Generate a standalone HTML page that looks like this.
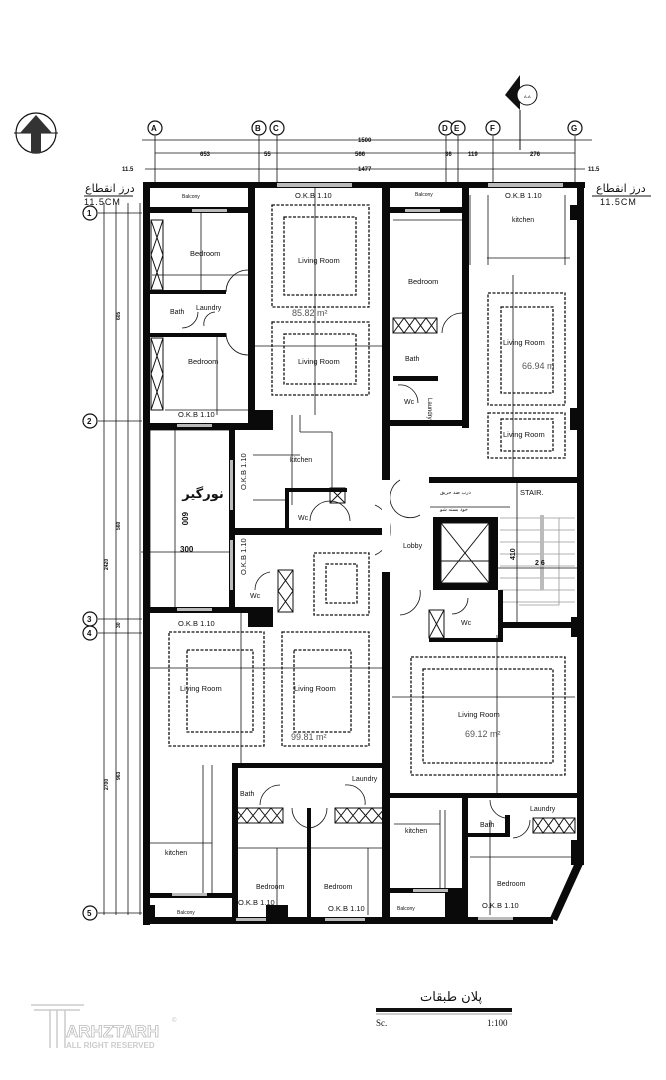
<!DOCTYPE html>
<html><head><meta charset="utf-8"><style>
html,body{margin:0;padding:0;background:#fff;}
svg{display:block;}
text{font-family:"Liberation Sans",sans-serif;fill:#111;}
.l{font-size:7.5px;}
.s{font-size:4px;font-weight:bold;}
.d{fill:none;stroke:#111;stroke-width:1.3;stroke-dasharray:3 1.5;}
.t{stroke:#111;stroke-width:0.8;fill:none;}
.w{fill:#0a0a0a;}
.x{fill:none;stroke:#111;stroke-width:1;}
.c{fill:#fff;stroke:#111;stroke-width:1.2;}
</style></head><body>
<svg width="666" height="1080" viewBox="0 0 666 1080" xmlns="http://www.w3.org/2000/svg">
<rect width="666" height="1080" fill="#fff"/>
<circle cx="36" cy="133" r="20" fill="none" stroke="#111" stroke-width="1.2"/>
<line x1="14" y1="133" x2="58" y2="133" stroke="#111"/>
<polygon points="36,115 20,133 31,133 31,153 41,153 41,133 52,133" fill="#333"/>
<polygon points="520,75 505,95 520,110" fill="#111"/>
<circle cx="527" cy="95" r="10" fill="#fff" stroke="#111"/>
<text x="524" y="98" style="font-size:4px">A-A</text>
<line x1="520" y1="110" x2="520" y2="150" stroke="#111"/>
<g class="t">
<line x1="155" y1="136" x2="155" y2="183"/><line x1="259" y1="136" x2="259" y2="183"/><line x1="277" y1="136" x2="277" y2="183"/>
<line x1="446" y1="136" x2="446" y2="183"/><line x1="458" y1="136" x2="458" y2="183"/><line x1="493" y1="136" x2="493" y2="183"/><line x1="575" y1="136" x2="575" y2="183"/>
<line x1="142" y1="140" x2="592" y2="140"/><line x1="155" y1="153" x2="575" y2="153"/><line x1="145" y1="169" x2="585" y2="169"/>
</g>
<g>
<circle class="c" cx="155" cy="128" r="7"/><text x="151" y="131" class="s" style="font-size:8px">A</text>
<circle class="c" cx="259" cy="128" r="7"/><text x="255" y="131" class="s" style="font-size:8px">B</text>
<circle class="c" cx="277" cy="128" r="7"/><text x="273" y="131" class="s" style="font-size:8px">C</text>
<circle class="c" cx="446" cy="128" r="7"/><text x="442" y="131" class="s" style="font-size:8px">D</text>
<circle class="c" cx="458" cy="128" r="7"/><text x="454" y="131" class="s" style="font-size:8px">E</text>
<circle class="c" cx="493" cy="128" r="7"/><text x="490" y="131" class="s" style="font-size:8px">F</text>
<circle class="c" cx="575" cy="128" r="7"/><text x="571" y="131" class="s" style="font-size:8px">G</text>
</g>
<g style="font-size:6px;font-weight:bold">
<text x="358" y="142">1500</text><text x="200" y="156">653</text><text x="264" y="156">55</text><text x="355" y="156">566</text>
<text x="445" y="156">36</text><text x="468" y="156">119</text><text x="530" y="156">276</text>
<text x="122" y="171">11.5</text><text x="358" y="171">1477</text><text x="588" y="171">11.5</text>
</g>
<text x="85" y="192" style="font-size:11px;font-family:'DejaVu Sans',sans-serif">درز انقطاع</text>
<text x="84" y="205" style="font-size:9px;letter-spacing:1px">11.5CM</text>
<line x1="84" y1="196" x2="133" y2="196" stroke="#111"/>
<text x="596" y="192" style="font-size:11px;font-family:'DejaVu Sans',sans-serif">درز انقطاع</text>
<text x="600" y="205" style="font-size:9px;letter-spacing:1px">11.5CM</text>
<line x1="592" y1="196" x2="651" y2="196" stroke="#111"/>
<g class="t">
<line x1="104" y1="203" x2="104" y2="915"/><line x1="116" y1="203" x2="116" y2="915"/><line x1="128" y1="203" x2="128" y2="915"/><line x1="140" y1="203" x2="140" y2="915"/>
<line x1="98" y1="213" x2="142" y2="213"/><line x1="98" y1="421" x2="142" y2="421"/><line x1="98" y1="619" x2="142" y2="619"/><line x1="98" y1="633" x2="142" y2="633"/><line x1="98" y1="913" x2="142" y2="913"/>
</g>
<g>
<circle class="c" cx="90" cy="213" r="7"/><text x="87" y="216" class="s" style="font-size:8px">1</text>
<circle class="c" cx="90" cy="421" r="7"/><text x="87" y="424" class="s" style="font-size:8px">2</text>
<circle class="c" cx="90" cy="619" r="7"/><text x="87" y="622" class="s" style="font-size:8px">3</text>
<circle class="c" cx="90" cy="633" r="7"/><text x="87" y="636" class="s" style="font-size:8px">4</text>
<circle class="c" cx="90" cy="913" r="7"/><text x="87" y="916" class="s" style="font-size:8px">5</text>
</g>
<g style="font-size:5px;font-weight:bold">
<text transform="translate(120,320) rotate(-90)">605</text>
<text transform="translate(120,530) rotate(-90)">560</text>
<text transform="translate(108,570) rotate(-90)">2420</text>
<text transform="translate(108,790) rotate(-90)">2700</text>
<text transform="translate(120,780) rotate(-90)">963</text>
<text transform="translate(120,628) rotate(-90)">30</text>
</g>

<rect x="150" y="430" width="82" height="180" fill="#fff" stroke="#111" stroke-width="0.8"/>
<line x1="175" y1="430" x2="175" y2="610" stroke="#111" stroke-width="0.8"/>
<text x="203" y="498" text-anchor="middle" direction="rtl" style="font-size:13px;font-weight:bold;font-family:'DejaVu Sans',sans-serif">نورگیر</text>
<text transform="translate(182,512) rotate(90)" style="font-size:8px;font-weight:bold">600</text>
<text x="180" y="552" style="font-size:8px;font-weight:bold">300</text>
<line x1="141" y1="552" x2="232" y2="552" stroke="#111" stroke-width="0.8"/>

<rect class="d" x="272" y="205" width="97" height="102"/><rect class="d" x="284" y="217" width="72" height="78"/>
<rect class="d" x="272" y="322" width="97" height="73"/><rect class="d" x="284" y="334" width="72" height="50"/>
<rect class="d" x="488" y="293" width="77" height="112"/><rect class="d" x="501" y="307" width="52" height="86"/>
<rect class="d" x="488" y="413" width="77" height="45"/><rect class="d" x="501" y="419" width="52" height="32"/>
<rect class="d" x="314" y="553" width="55" height="62"/><rect class="d" x="326" y="564" width="31" height="39"/>
<rect class="d" x="169" y="632" width="95" height="114"/><rect class="d" x="187" y="650" width="66" height="82"/>
<rect class="d" x="282" y="632" width="87" height="114"/><rect class="d" x="294" y="650" width="57" height="82"/>
<rect class="d" x="411" y="657" width="154" height="118"/><rect class="d" x="423" y="669" width="130" height="94"/>

<g class="t">
<line x1="315" y1="188" x2="315" y2="415"/><line x1="255" y1="346" x2="385" y2="346"/>
<line x1="513" y1="275" x2="513" y2="480"/><line x1="393" y1="220" x2="465" y2="220"/>
<line x1="487" y1="258" x2="570" y2="258"/><line x1="470" y1="195" x2="470" y2="265"/><line x1="488" y1="195" x2="488" y2="265"/>
<line x1="565" y1="195" x2="565" y2="265"/>
<line x1="152" y1="275" x2="248" y2="275"/><line x1="201" y1="213" x2="201" y2="290"/><line x1="217" y1="335" x2="217" y2="415"/>
<line x1="165" y1="410" x2="248" y2="410"/>
<line x1="292" y1="415" x2="292" y2="505"/><line x1="300" y1="432" x2="332" y2="432"/><line x1="332" y1="432" x2="332" y2="488"/><line x1="300" y1="415" x2="300" y2="432"/>
<line x1="253" y1="455" x2="300" y2="455"/><line x1="253" y1="500" x2="287" y2="500"/>
<line x1="150" y1="668" x2="388" y2="668"/><line x1="241" y1="610" x2="241" y2="765"/>
<line x1="392" y1="697" x2="575" y2="697"/><line x1="497" y1="635" x2="497" y2="793"/>
<line x1="150" y1="843" x2="212" y2="843"/><line x1="212" y1="765" x2="212" y2="893"/><line x1="203" y1="765" x2="203" y2="893"/>
<line x1="235" y1="848" x2="385" y2="848"/><line x1="277" y1="848" x2="277" y2="915"/><line x1="368" y1="848" x2="368" y2="915"/>
<line x1="394" y1="824" x2="440" y2="824"/><line x1="440" y1="810" x2="440" y2="893"/><line x1="445" y1="810" x2="445" y2="893"/>
<line x1="470" y1="857" x2="575" y2="857"/><line x1="490" y1="820" x2="490" y2="915"/>
<line x1="430" y1="507" x2="510" y2="507"/>
</g>

<g stroke="#999" stroke-width="0.8" fill="none">
<line x1="500" y1="518" x2="575" y2="518"/><line x1="500" y1="530" x2="575" y2="530"/><line x1="500" y1="542" x2="575" y2="542"/>
<line x1="500" y1="554" x2="575" y2="554"/><line x1="500" y1="566" x2="575" y2="566"/><line x1="500" y1="578" x2="575" y2="578"/>
<line x1="500" y1="590" x2="575" y2="590"/><line x1="500" y1="602" x2="575" y2="602"/>
<polyline points="519,605 559,605 559,518"/>
</g>
<rect x="540" y="515" width="4" height="75" fill="#bbb"/>
<line x1="498" y1="568" x2="584" y2="568" stroke="#111" stroke-width="0.8"/>
<line x1="517" y1="482" x2="517" y2="625" stroke="#111" stroke-width="0.8"/>
<text x="520" y="495" style="font-size:7.5px">STAIR.</text>
<text transform="translate(515,560) rotate(-90)" style="font-size:7px;font-weight:bold">410</text>
<text x="535" y="565" style="font-size:7px;font-weight:bold">2 6</text>

<rect x="433" y="517" width="65" height="73" class="w"/>
<rect x="441" y="523" width="48" height="60" fill="#fff" stroke="#111"/>
<line x1="441" y1="523" x2="489" y2="583" stroke="#111"/><line x1="489" y1="523" x2="441" y2="583" stroke="#111"/>
<line x1="441" y1="561" x2="489" y2="561" stroke="#111"/>

<g class="x">
<rect x="151" y="220" width="12" height="70"/><path d="M151,220 L163,255 L151,290 M163,220 L151,255 L163,290"/>
<rect x="151" y="338" width="12" height="72"/><path d="M151,338 L163,374 L151,410 M163,338 L151,374 L163,410"/>
<rect x="393" y="318" width="44" height="15"/><path d="M393,318 l11,15 l11,-15 l11,15 l11,-15 M393,333 l11,-15 l11,15 l11,-15 l11,15"/>
<rect x="330" y="488" width="15" height="15"/><path d="M330,488 l15,15 M345,488 l-15,15"/>
<rect x="278" y="570" width="15" height="42"/><path d="M278,570 l15,21 l-15,21 M293,570 l-15,21 l15,21"/>
<rect x="429" y="610" width="15" height="28"/><path d="M429,610 l15,28 M444,610 l-15,28"/>
<rect x="235" y="808" width="48" height="15"/><path d="M235,808 l12,15 l12,-15 l12,15 l12,-15 M235,823 l12,-15 l12,15 l12,-15 l12,15"/>
<rect x="335" y="808" width="50" height="15"/><path d="M335,808 l12,15 l12,-15 l13,15 l13,-15 M335,823 l12,-15 l12,15 l13,-15 l13,15"/>
<rect x="533" y="818" width="42" height="15"/><path d="M533,818 l10,15 l11,-15 l10,15 l11,-15 M533,833 l10,-15 l11,15 l10,-15 l11,15"/>
</g>

<g class="t">
<path d="M248,270 A22,22 0 0,0 226,292"/><path d="M248,355 A22,22 0 0,1 226,333"/>
<path d="M198,312 A16,16 0 0,1 182,328"/><path d="M215,312 A12,12 0 0,0 204,326"/>
<path d="M462,313 A20,20 0 0,0 442,333"/><path d="M398,385 A18,18 0 0,1 418,403"/>
<path d="M350,521 A20,20 0 0,0 310,521"/><path d="M270,572 A18,18 0 0,0 255,590"/>
<path d="M420,515 A20,20 0 0,1 400,480"/><path d="M375,505 A25,25 0 0,1 390,530"/><path d="M375,555 A25,25 0 0,0 390,530"/><path d="M420,590 A22,22 0 0,1 400,615"/>
<path d="M468,598 A16,16 0 0,1 452,614"/>
<path d="M260,805 A20,20 0 0,1 280,785"/><path d="M292,808 A20,20 0 0,0 310,828"/><path d="M327,808 A20,20 0 0,1 310,828"/><path d="M345,785 A18,18 0 0,1 365,805"/>
<path d="M490,800 A18,18 0 0,0 510,818"/><path d="M530,820 A18,18 0 0,1 513,838"/>
</g>

<g class="w">
<rect x="143" y="182" width="7" height="743"/>
<rect x="143" y="182" width="442" height="6"/>
<rect x="577" y="182" width="7" height="681"/>
<polygon points="577,858 584,862 557,921 550,918"/>
<rect x="143" y="917" width="410" height="7"/>
<rect x="248" y="183" width="7" height="245"/>
<rect x="143" y="207" width="105" height="6"/>
<rect x="143" y="423" width="112" height="7"/>
<rect x="150" y="290" width="76" height="4"/><rect x="150" y="333" width="76" height="4"/>
<rect x="382" y="183" width="8" height="297"/>
<rect x="382" y="572" width="8" height="348"/>
<rect x="387" y="207" width="80" height="6"/>
<rect x="462" y="183" width="7" height="245"/>
<rect x="393" y="376" width="45" height="5"/>
<rect x="390" y="420" width="75" height="6"/>
<rect x="229" y="423" width="6" height="190"/>
<rect x="232" y="528" width="155" height="7"/>
<rect x="143" y="607" width="130" height="6"/>
<rect x="248" y="607" width="25" height="20"/>
<rect x="255" y="410" width="18" height="20"/>
<rect x="285" y="488" width="4" height="42"/><rect x="285" y="488" width="62" height="4"/>
<rect x="429" y="477" width="155" height="6"/>
<rect x="498" y="590" width="5" height="50"/>
<rect x="498" y="622" width="86" height="6"/>
<rect x="429" y="638" width="74" height="4"/>
<rect x="571" y="617" width="13" height="20"/><rect x="570" y="408" width="14" height="22"/><rect x="570" y="205" width="14" height="15"/>
<rect x="232" y="763" width="156" height="5"/>
<rect x="232" y="763" width="6" height="158"/>
<rect x="307" y="808" width="4" height="112"/>
<rect x="266" y="905" width="22" height="16"/>
<rect x="143" y="893" width="95" height="5"/>
<rect x="390" y="793" width="194" height="5"/>
<rect x="462" y="793" width="6" height="128"/>
<rect x="390" y="888" width="75" height="5"/>
<rect x="465" y="833" width="45" height="4"/><rect x="505" y="815" width="5" height="22"/>
<rect x="571" y="840" width="13" height="25"/>
<rect x="143" y="905" width="12" height="18"/><rect x="445" y="893" width="18" height="27"/>
</g>
<g fill="#bbb">
<rect x="277" y="183" width="75" height="4"/><rect x="488" y="183" width="75" height="4"/>
<rect x="192" y="209" width="35" height="3"/><rect x="405" y="209" width="35" height="3"/>
<rect x="177" y="424" width="35" height="3"/><rect x="177" y="608" width="35" height="3"/>
<rect x="230" y="460" width="3" height="50"/><rect x="230" y="540" width="3" height="50"/>
<rect x="172" y="893" width="35" height="3"/><rect x="236" y="918" width="30" height="3"/><rect x="325" y="918" width="40" height="3"/>
<rect x="413" y="889" width="35" height="3"/><rect x="478" y="917" width="35" height="3"/>
</g>
<g fill="#fff"><rect x="382" y="480" width="8" height="92"/></g>

<g class="l">
<text x="182" y="198" style="font-size:5px">Balcony</text>
<text x="415" y="196" style="font-size:5px">Balcony</text>
<text x="295" y="198">O.K.B 1.10</text>
<text x="505" y="198">O.K.B 1.10</text>
<text x="512" y="222" style="font-size:7px">kitchen</text>
<text x="190" y="256">Bedroom</text>
<text x="298" y="263">Living Room</text>
<text x="408" y="284">Bedroom</text>
<text x="170" y="314" style="font-size:7px">Bath</text><text x="196" y="310" style="font-size:7px">Laundry</text>
<text x="292" y="316" style="font-size:9px;fill:#555">85.82 m²</text>
<text x="298" y="364">Living Room</text>
<text x="188" y="364">Bedroom</text>
<text x="405" y="361" style="font-size:7px">Bath</text>
<text x="503" y="345">Living Room</text>
<text x="522" y="369" style="font-size:9px;fill:#555">66.94 m</text>
<text x="404" y="404" style="font-size:7px">Wc</text>
<text x="178" y="417">O.K.B 1.10</text>
<text x="503" y="437">Living Room</text>
<text x="290" y="462" style="font-size:7px">kitchen</text>
<text x="298" y="520" style="font-size:7px">Wc</text>
<text x="403" y="548" style="font-size:7px">Lobby</text>
<text x="440" y="494" style="font-size:5px;font-family:'DejaVu Sans',sans-serif">درب ضد حریق</text>
<text x="440" y="511" style="font-size:5px;font-family:'DejaVu Sans',sans-serif">خود بسته شو</text>
<text x="250" y="598" style="font-size:7px">Wc</text>
<text x="461" y="625" style="font-size:7px">Wc</text>
<text x="178" y="626">O.K.B 1.10</text>
<text x="180" y="691">Living Room</text>
<text x="294" y="691">Living Room</text>
<text x="458" y="717">Living Room</text>
<text x="291" y="740" style="font-size:9px;fill:#555">99.81 m²</text>
<text x="465" y="737" style="font-size:9px;fill:#555">69.12 m²</text>
<text x="352" y="781" style="font-size:7px">Laundry</text>
<text x="240" y="796" style="font-size:7px">Bath</text>
<text x="530" y="811" style="font-size:7px">Laundry</text>
<text x="480" y="827" style="font-size:7px">Bath</text>
<text x="405" y="833" style="font-size:7px">kitchen</text>
<text x="165" y="855" style="font-size:7px">kitchen</text>
<text x="256" y="889" style="font-size:7px">Bedroom</text>
<text x="324" y="889" style="font-size:7px">Bedroom</text>
<text x="497" y="886" style="font-size:7px">Bedroom</text>
<text x="238" y="905">O.K.B 1.10</text>
<text x="328" y="911">O.K.B 1.10</text>
<text x="482" y="908">O.K.B 1.10</text>
<text x="177" y="914" style="font-size:5px">Balcony</text>
<text x="397" y="910" style="font-size:5px">Balcony</text>
</g>
<g style="font-size:7.5px">
<text transform="translate(246,490) rotate(-90)">O.K.B 1.10</text>
<text transform="translate(246,575) rotate(-90)">O.K.B 1.10</text>
<text transform="translate(428,398) rotate(90)" style="font-size:6px">Laundry</text>
</g>

<text x="420" y="1001" style="font-size:13px;font-family:'DejaVu Serif',serif">پلان طبقات</text>
<rect x="376" y="1008" width="136" height="4" fill="#111"/>
<line x1="376" y1="1014" x2="512" y2="1014" stroke="#999"/>
<text x="376" y="1026" style="font-size:9px;font-family:'Liberation Serif',serif">Sc.</text>
<text x="487" y="1026" style="font-size:9px;font-family:'Liberation Serif',serif">1:100</text>
<g fill="none" stroke="#ccc" stroke-width="1.5">
<path d="M31,1005 H84 M34,1010 H80 M50,1010 V1048 M57,1010 V1048 M65,1010 V1048"/>
</g>
<text x="66" y="1037" style="font-size:17px;fill:#fff;stroke:#bbb;stroke-width:0.8;font-weight:bold">ARHZTARH</text>
<text x="66" y="1048" style="font-size:8px;fill:#ccc;font-weight:bold">ALL RIGHT RESERVED</text>
<text x="172" y="1022" style="font-size:6px;fill:#bbb">©</text>
</svg>
</body></html>
